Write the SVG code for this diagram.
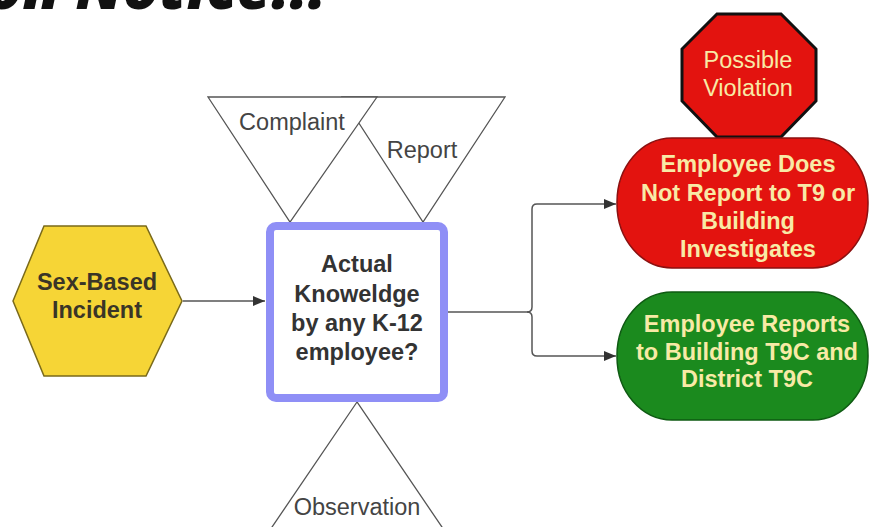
<svg xmlns="http://www.w3.org/2000/svg" width="869" height="527" viewBox="0 0 869 527">
<defs>
<marker id="arr" viewBox="0 0 12 10" refX="12" refY="5" markerWidth="12" markerHeight="10" markerUnits="userSpaceOnUse" orient="auto">
<path d="M0,0 L12,5 L0,10 Z" fill="#333"/>
</marker>
<style>
.tri{fill:#fff;stroke:#555;stroke-width:1.3}
.lbl{font-family:"Liberation Sans",Arial,sans-serif;font-size:23.5px;fill:#444;text-anchor:middle}
.bold{font-family:"Liberation Sans",Arial,sans-serif;font-size:23.5px;font-weight:bold;text-anchor:middle}
.light{fill:#f8eaa6}
.conn{fill:none;stroke:#555;stroke-width:1.5}
</style>
</defs>
<rect width="869" height="527" fill="#fff"/>
<text x="326" y="9" text-anchor="end" font-family="'Open Sans',Lato,sans-serif" font-size="60" font-weight="800" font-style="italic" fill="#111">on Notice!!!</text>

<g id="report">
<polygon class="tri" points="342,97 505,97 423,222"/>
<text class="lbl" x="422" y="158">Report</text>
</g>
<g id="complaint">
<polygon class="tri" points="208,97 377,97 290,222"/>
<text class="lbl" x="292" y="130">Complaint</text>
</g>
<g id="observation">
<polygon class="tri" points="357,402 270,530 444,530"/>
<text class="lbl" x="357" y="515">Observation</text>
</g>

<g id="connectors">
<path class="conn" d="M183,301 H265" marker-end="url(#arr)"/>
<path class="conn" d="M448,312 H527 Q532,312 532,307 V209 Q532,204 537,204 H616" marker-end="url(#arr)"/>
<path class="conn" d="M527,312 Q532,312 532,317 V351 Q532,356 537,356 H616" marker-end="url(#arr)"/>
</g>

<g id="incident">
<polygon points="13,301 44,226 146,226 182,301 146,376 44,376" fill="#f6d536" stroke="#7a6a1a" stroke-width="1.5"/>
<text class="bold" x="97" y="290" fill="#3a3527">Sex-Based</text>
<text class="bold" x="97" y="318" fill="#3a3527">Incident</text>
</g>

<g id="knowledge">
<rect x="270" y="226" width="174" height="172" rx="6" fill="#fff" stroke="#8f8ff6" stroke-width="8"/>
<text class="bold" x="357" y="272" fill="#333">Actual</text>
<text class="bold" x="357" y="302" fill="#333">Knoweldge</text>
<text class="bold" x="357" y="331" fill="#333">by any K-12</text>
<text class="bold" x="357" y="360" fill="#333">employee?</text>
</g>

<g id="violation">
<polygon points="717,14 781,14 816,49 816,101 781,137 717,137 682,101 682,49" fill="#e3130f" stroke="#111" stroke-width="3"/>
<text class="lbl light" x="748" y="68">Possible</text>
<text class="lbl light" x="748" y="96">Violation</text>
</g>

<g id="no-report">
<rect x="617" y="138" width="251" height="130" rx="55" ry="64" fill="#e3130f" stroke="#8b1010" stroke-width="1.5"/>
<text class="bold light" x="748" y="172">Employee Does</text>
<text class="bold light" x="748" y="201">Not Report to T9 or</text>
<text class="bold light" x="748" y="229">Building</text>
<text class="bold light" x="748" y="257">Investigates</text>
</g>

<g id="reports">
<rect x="617" y="292" width="251" height="128" rx="55" ry="63" fill="#1b8a1e" stroke="#0e5a12" stroke-width="1.5"/>
<text class="bold light" x="747" y="332">Employee Reports</text>
<text class="bold light" x="747" y="360">to Building T9C and</text>
<text class="bold light" x="747" y="387">District T9C</text>
</g>
</svg>
